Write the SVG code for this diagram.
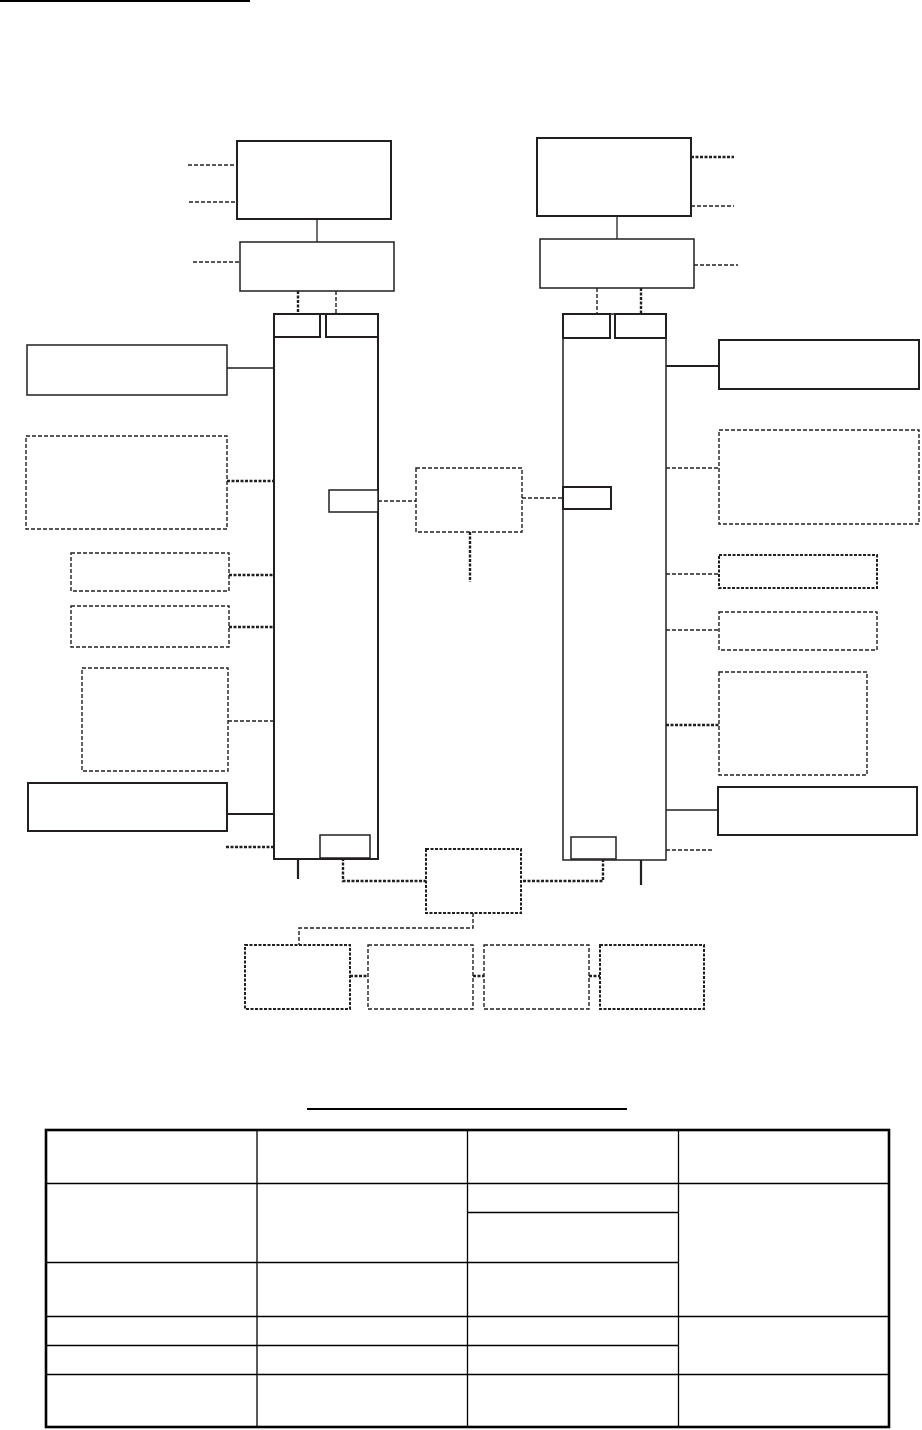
<svg xmlns="http://www.w3.org/2000/svg" width="922" height="1430" viewBox="0 0 922 1430">
<style>
  .box{fill:#fff;stroke:#231f20;stroke-width:1.5}
  .boxt{fill:#fff;stroke:#231f20;stroke-width:2}
  .dbox{fill:#fff;stroke:#231f20;stroke-width:1.4;stroke-dasharray:4 2}
  .dboxt{fill:#fff;stroke:#231f20;stroke-width:2;stroke-dasharray:3 1.5}
  .ln{stroke:#231f20;stroke-width:1.3;fill:none}
  .lnt{stroke:#231f20;stroke-width:2.2;fill:none}
  .dl{stroke:#231f20;stroke-width:1.4;fill:none;stroke-dasharray:4 2}
  .dlt{stroke:#231f20;stroke-width:2.4;fill:none;stroke-dasharray:3 1.5}
  .tb{stroke:#000;stroke-width:1.3;fill:none}
</style>
<rect width="922" height="1430" fill="#fff"/>
<line x1="0" y1="1" x2="250" y2="1" stroke="#000" stroke-width="2.2"/>

<g id="connectors">
  <line class="dl" x1="188" y1="165" x2="237" y2="165"/>
  <line class="dl" x1="189" y1="202" x2="237" y2="202"/>
  <line class="ln" x1="317" y1="219" x2="317" y2="242"/>
  <line class="dl" x1="193" y1="262" x2="240" y2="262"/>
  <line class="dlt" x1="298" y1="291" x2="298" y2="314"/>
  <line class="dl" x1="336" y1="291" x2="336" y2="314"/>
  <line class="dlt" x1="691" y1="157" x2="734" y2="157"/>
  <line class="dl" x1="691" y1="206" x2="734" y2="206"/>
  <line class="ln" x1="617" y1="216" x2="617" y2="239"/>
  <line class="dl" x1="694" y1="265" x2="738" y2="265"/>
  <line class="dl" x1="597" y1="288" x2="597" y2="314"/>
  <line class="dlt" x1="641" y1="288" x2="641" y2="314"/>
  <line class="ln" x1="227" y1="368" x2="274" y2="368"/>
  <line class="dlt" x1="227" y1="481" x2="274" y2="481"/>
  <line class="dlt" x1="229" y1="575" x2="274" y2="575"/>
  <line class="dlt" x1="229" y1="627" x2="274" y2="627"/>
  <line class="dl" x1="228" y1="721" x2="274" y2="721"/>
  <line class="lnt" x1="227" y1="814" x2="274" y2="814"/>
  <line class="dlt" x1="226" y1="847" x2="274" y2="847"/>
  <line class="lnt" x1="666" y1="366" x2="719" y2="366"/>
  <line class="dl" x1="666" y1="468" x2="719" y2="468"/>
  <line class="dl" x1="666" y1="574" x2="719" y2="574"/>
  <line class="dl" x1="666" y1="630" x2="719" y2="630"/>
  <line class="dlt" x1="666" y1="725" x2="719" y2="725"/>
  <line class="ln" x1="666" y1="810" x2="718" y2="810"/>
  <line class="dl" x1="666" y1="850" x2="713" y2="850"/>
  <line class="dl" x1="378" y1="501" x2="416" y2="501"/>
  <line class="dl" x1="522" y1="498" x2="563" y2="498"/>
  <line class="dlt" x1="470" y1="532" x2="470" y2="582"/>
  <line class="lnt" x1="298" y1="859" x2="298" y2="879"/>
  <polyline class="dlt" points="343,858 343,881 426,881"/>
  <line class="lnt" x1="641" y1="859" x2="641" y2="885"/>
  <polyline class="dlt" points="603,859 603,881 522,881"/>
  <polyline class="dl" points="473,913 473,928 299,928 299,945"/>
  <line class="dlt" x1="350" y1="976" x2="368" y2="976"/>
  <line class="dlt" x1="473" y1="976" x2="484" y2="976"/>
  <line class="dlt" x1="589" y1="976" x2="600" y2="976"/>
</g>

<g id="nodeLeftTopA"><rect class="boxt" x="237" y="141" width="154" height="78"/></g>
<g id="nodeLeftTopB"><rect class="box" x="240" y="242" width="154" height="49"/></g>
<g id="nodeRightTopA"><rect class="boxt" x="537" y="138" width="154" height="78"/></g>
<g id="nodeRightTopB"><rect class="box" x="540" y="239" width="154" height="49"/></g>

<g id="nodeLeftColumn">
  <rect class="boxt" x="274" y="314" width="104" height="545"/>
  <rect class="boxt" x="274" y="314" width="46" height="23"/>
  <rect class="boxt" x="326" y="314" width="52" height="23"/>
  <rect class="box" x="329" y="490" width="49" height="22"/>
  <rect class="box" x="320" y="835" width="50" height="23"/>
</g>
<g id="nodeRightColumn">
  <rect class="box" x="563" y="314" width="103" height="546"/>
  <rect class="boxt" x="563" y="314" width="47" height="24"/>
  <rect class="boxt" x="615" y="314" width="51" height="24"/>
  <rect class="boxt" x="563" y="487" width="48" height="22"/>
  <rect class="box" x="571" y="837" width="45" height="22"/>
</g>

<g id="nodeL1"><rect class="box" x="27" y="345" width="200" height="50"/></g>
<g id="nodeL2"><rect class="dbox" x="26" y="436" width="201" height="93"/></g>
<g id="nodeL3"><rect class="dbox" x="71" y="553" width="158" height="38"/></g>
<g id="nodeL4"><rect class="dbox" x="71" y="606" width="158" height="41"/></g>
<g id="nodeL5"><rect class="dbox" x="82" y="668" width="146" height="103"/></g>
<g id="nodeL6"><rect class="boxt" x="28" y="783" width="199" height="48"/></g>

<g id="nodeR1"><rect class="boxt" x="719" y="340" width="200" height="49"/></g>
<g id="nodeR2"><rect class="dbox" x="719" y="430" width="200" height="94"/></g>
<g id="nodeR3"><rect class="dboxt" x="719" y="555" width="158" height="33"/></g>
<g id="nodeR4"><rect class="dbox" x="719" y="612" width="158" height="38"/></g>
<g id="nodeR5"><rect class="dbox" x="719" y="672" width="148" height="103"/></g>
<g id="nodeR6"><rect class="boxt" x="718" y="787" width="199" height="48"/></g>

<g id="nodeMiddle"><rect class="dbox" x="416" y="468" width="106" height="64"/></g>
<g id="nodeBottomHub"><rect class="dboxt" x="426" y="849" width="95" height="64"/></g>
<g id="nodeB1"><rect class="dboxt" x="245" y="945" width="105" height="64"/></g>
<g id="nodeB2"><rect class="dbox" x="368" y="945" width="105" height="64"/></g>
<g id="nodeB3"><rect class="dbox" x="484" y="945" width="105" height="64"/></g>
<g id="nodeB4"><rect class="dboxt" x="600" y="945" width="104" height="64"/></g>

<line x1="307" y1="1109" x2="627" y2="1109" stroke="#000" stroke-width="2.2"/>
<g id="table">
  <line class="tb" x1="257" y1="1129" x2="257" y2="1428"/>
  <line class="tb" x1="467.5" y1="1129" x2="467.5" y2="1428"/>
  <line class="tb" x1="678.5" y1="1129" x2="678.5" y2="1428"/>
  <line class="tb" x1="45" y1="1183.5" x2="889" y2="1183.5"/>
  <line class="tb" x1="467" y1="1212.5" x2="679" y2="1212.5"/>
  <line class="tb" x1="45" y1="1262.5" x2="679" y2="1262.5"/>
  <line class="tb" x1="45" y1="1316.5" x2="889" y2="1316.5"/>
  <line class="tb" x1="45" y1="1345.5" x2="679" y2="1345.5"/>
  <line class="tb" x1="45" y1="1374.5" x2="889" y2="1374.5"/>
  <rect x="46" y="1130" width="843" height="297" fill="none" stroke="#000" stroke-width="2.6"/>
</g>
</svg>
